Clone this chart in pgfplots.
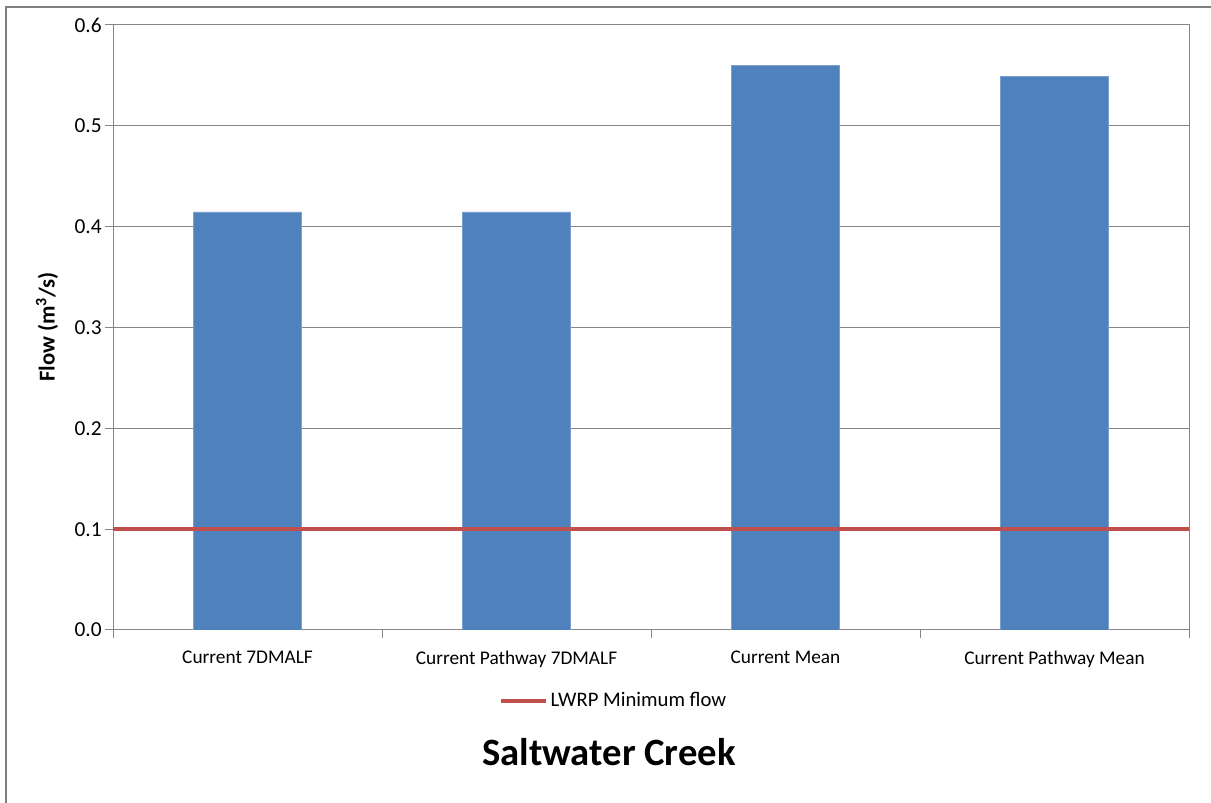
\documentclass[border=0pt]{standalone}
\usepackage{fontspec}
\setmainfont{Carlito}
\usepackage{pgfplots}
\pgfplotsset{compat=1.18}
\definecolor{barblue}{HTML}{4F81BD}
\definecolor{lred}{HTML}{C0504D}
\definecolor{gridgray}{HTML}{868686}
\definecolor{framegray}{HTML}{7F7F7F}
\begin{document}
\begin{tikzpicture}[x=0.75pt,y=0.75pt]
\path[use as bounding box] (0,0) rectangle (1211,803);
\draw[framegray, line width=1.5pt] (6,0) -- (6,796) -- (1211,796);
\begin{axis}[
  at={(84.75pt,129.75pt)}, anchor=south west,
  scale only axis, width=807pt, height=453.75pt,
  xmin=-0.5, xmax=3.5, ymin=0, ymax=0.6,
  ytick={0,0.1,0.2,0.3,0.4,0.5,0.6},
  yticklabel style={/pgf/number format/fixed, /pgf/number format/fixed zerofill, /pgf/number format/precision=1, font=\fontsize{16}{19}\selectfont, xshift=1pt},
  /pgf/number format/assume math mode=true,
  xtick={0,1,2,3},
  xticklabels={Current 7DMALF, Current Pathway 7DMALF, Current Mean, Current Pathway Mean},
  xticklabel style={font=\fontsize{14.5}{17}\selectfont, yshift=-6.5pt},
  minor xtick={-0.5,0.5,1.5,2.5,3.5},
  major x tick style={draw=none},
  tick style={gridgray, line width=0.75pt},
  tick align=outside, major tick length=6pt, minor tick length=6pt,
  xtick pos=bottom, ytick pos=left,
  ymajorgrids, grid style={gridgray, line width=0.75pt},
  axis line style={gridgray, line width=0.75pt},
  legend style={at={(0.4656,-0.117)}, anchor=center, draw=none, fill=none,
    font=\fontsize{15.5}{18}\selectfont, inner sep=0pt},
  legend image code/.code={\draw[#1] (0pt,0pt) -- (33.75pt,0pt);},
  legend cell align=left,
]
\addplot[ybar, bar width=0.4, fill=barblue, draw=barblue!75!white, line width=0.5pt, forget plot]
  coordinates {(0,0.4146) (1,0.4146) (2,0.5598) (3,0.5486)};
\addplot[lred, line width=3pt] coordinates {(-0.5,0.1) (3.5,0.1)};
\addlegendentry{LWRP Minimum flow}
\end{axis}
\node[font=\bfseries\fontsize{17}{20}\selectfont, rotate=90] at (47,476) {Flow (m\textsuperscript{3}/s)};
\node[font=\bfseries\fontsize{29}{34}\selectfont] at (609,51) {Saltwater Creek};
\end{tikzpicture}
\end{document}
